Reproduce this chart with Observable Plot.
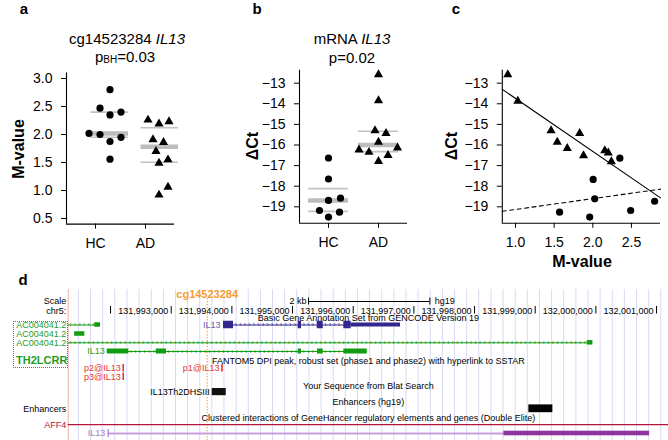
<!DOCTYPE html>
<html><head><meta charset="utf-8">
<script src="https://cdn.jsdelivr.net/npm/d3@7"></script>
<script src="https://cdn.jsdelivr.net/npm/@observablehq/plot@0.6"></script>
<style>
body{margin:0;background:#fff;}
#wrap{position:relative;width:668px;height:440px;overflow:hidden;background:#fff;font-family:"Liberation Sans",Arial,Helvetica,sans-serif;color:#000;}
#wrap svg{position:absolute;left:0;top:0;}
.lbl{position:absolute;white-space:nowrap;line-height:1;transform:translate(-50%,-50%);}
</style></head>
<body><div id="wrap"></div>
<script>
// ---------------- DATA ----------------
const groups = ["HC", "AD"];
// Panel a: cg14523284 IL13 M-values (with horizontal jitter)
const aHC = [2.80, 2.47, 2.35, 2.40, 2.02, 2.00, 1.95, 1.875, 1.56];
const aHCJitter = [0.29, 0.09, 0.29, 0.51, -0.13, 0.09, 0.51, 0.29, 0.29];
const aAD = [2.26, 2.19, 2.23, 1.91, 1.86, 1.70, 1.55, 1.49, 1.06, 0.92];
const aADJitter = [0.05, 0.27, 0.47, 0.15, 0.36, 0.21, 0.45, 0.27, 0.45, 0.27];
// Panel b: mRNA IL13 dCt
const bHC = [-16.63, -17.65, -18.69, -18.58, -19.18, -19.26, -19.50];
const bHCJitter = [0, 0, 0, 0.24, -0.18, 0.22, 0];
const bAD = [-12.58, -13.84, -15.30, -15.43, -15.86, -16.23, -16.35, -16.14, -16.50, -16.79];
const bADJitter = [0, 0, -0.07, 0.15, 0, -0.39, -0.19, 0.38, 0.19, 0];
// Panel c: M-value vs dCt
const cADm  = [0.90, 1.03, 1.46, 1.54, 1.67, 1.83, 1.88, 2.155, 2.20, 2.24];
const cADct = [-12.58, -13.87, -15.30, -15.86, -16.16, -15.43, -16.51, -16.27, -16.38, -16.80];
const cHCm  = [2.35, 2.005, 2.025, 2.80, 1.57, 2.49, 1.96];
const cHCct = [-16.64, -17.67, -18.61, -18.73, -19.26, -19.18, -19.50];
// Tick labels
const aYTicks = [0.5, 1.0, 1.5, 2.0, 2.5, 3.0];
const bYTicks = [-19, -18, -17, -16, -15, -14, -13];
const cXTicks = [1.0, 1.5, 2.0, 2.5];

// Panel d: UCSC browser view, hg19 chr5
const viewStart = 131991302, viewEnd = 132001197;
const rulerPositions = [131992000, 131993000, 131994000, 131995000, 131996000, 131997000, 131998000, 131999000, 132000000, 132001000];
const rulerLabelPositions = [131993000, 131994000, 131995000, 131996000, 131997000, 131998000, 131999000, 132000000, 132001000];
const scaleBarStart = 131995263, scaleBarLength = 2000;
const cpgName = "cg14523284", cpgPos = 131993593;
const gencodeIL13Exons = [[131993862, 131994027], [131995093, 131995148], [131995407, 131995506], [131995845, 131995967]];
const gencodeIL13Utr = [[131995967, 131996780]];
const gencodeIL13Introns = [[131994027, 131995093], [131995148, 131995407], [131995506, 131995845]];
const ac1Exons = [[131991740, 131991834]], ac1Introns = [[131991302, 131991740]];
const ac2Exons = [[131991408, 131991576]];
const ac3Exons = [[131999858, 131999950]], ac3Introns = [[131991302, 131999858]];
const greenIL13Exons = [[131991946, 131992302], [131992753, 131992923], [131995093, 131995148], [131995412, 131995506], [131995845, 131996231]];
const greenIL13Introns = [[131992302, 131992753], [131992923, 131995093], [131995148, 131995412], [131995506, 131995845]];
const fantomPeaks = [{name: "p2@IL13", pos: 131992209, row: "p2"}, {name: "p3@IL13", pos: 131992209, row: "p3"}, {name: "p1@IL13", pos: 131993837, row: "p2"}];
const dhs = [{name: "IL13Th2DHSIII", start: 131993676, end: 131993907}];
const enhancers = [{start: 131998895, end: 131999291}];
const geneHancer = [{name: "IL13", tss: 131991961, start: 131998483, end: 132000885}];
const trackTitles = [
  {row: "gencodeTitle", text: "Basic Gene Annotation Set from GENCODE Version 19"},
  {row: "fantomTitle", text: "FANTOM5 DPI peak, robust set (phase1 and phase2) with hyperlink to SSTAR"},
  {row: "blatTitle", text: "Your Sequence from Blat Search"},
  {row: "enhTitle", text: "Enhancers (hg19)"},
  {row: "ghTitle", text: "Clustered interactions of GeneHancer regulatory elements and genes (Double Elite)"}
];
const gutterLabels = [
  {row: "scale", text: "Scale", color: "#000"},
  {row: "ruler", text: "chr5:", color: "#000"},
  {row: "ac1", text: "AC004041.2", color: "#1f9d1f"},
  {row: "ac2", text: "AC004041.2", color: "#1f9d1f"},
  {row: "ac3", text: "AC004041.2", color: "#1f9d1f"},
  {row: "enh", text: "Enhancers", color: "#000"},
  {row: "aff4", text: "AFF4", color: "#b5143c"}
];

// ---------------- LAYOUT ----------------
const FONT = '"Liberation Sans", Arial, Helvetica, sans-serif';
const W = 668, H = 440;
const wrap = document.getElementById("wrap");
const minus = d => (d < 0 ? "\u2212" : "") + Math.abs(d);

function addPlot(opts) {
  const svg = Plot.plot({width: W, height: H,
    style: {background: "transparent", fontFamily: FONT, overflow: "visible", color: "#000"}, ...opts});
  wrap.appendChild(svg);
}
function addLabel(html, x, y, css) {
  const d = document.createElement("div");
  d.className = "lbl"; d.innerHTML = html;
  d.style.left = x + "px"; d.style.top = y + "px";
  Object.assign(d.style, css || {});
  wrap.appendChild(d);
}
function quartiles(vals, g) {
  const s = vals.slice().sort(d3.ascending);
  return {g, q1: d3.quantile(s, 0.25), med: d3.quantile(s, 0.5), q3: d3.quantile(s, 0.75)};
}
function fit(xs, ys) {
  const mx = d3.mean(xs), my = d3.mean(ys);
  const b = d3.sum(xs, (x, i) => (x - mx) * (ys[i] - my)) / d3.sum(xs, x => (x - mx) ** 2);
  return {a: my - b * mx, b};
}
function groupPanel({vHC, jHC, vAD, jAD, xDomain, yDomain, yTicks, yFormat, span, left, right, top, bottom}) {
  const hc = vHC.map((v, i) => ({x: 1 + jHC[i], y: v}));
  const ad = vAD.map((v, i) => ({x: 2 + jAD[i], y: v}));
  const st = [quartiles(vHC, 1), quartiles(vAD, 2)];
  const qs = st.flatMap(s => [{g: s.g, y: s.q1}, {g: s.g, y: s.q3}]);
  const meds = st.map(s => ({g: s.g, y: s.med}));
  addPlot({
    marginLeft: left, marginRight: W - right, marginTop: top, marginBottom: H - bottom,
    x: {domain: xDomain, label: null}, y: {domain: yDomain, label: null},
    marks: [
      Plot.ruleY(qs, {x1: d => d.g + span[0], x2: d => d.g + span[1], y: "y", stroke: "#c2c2c2", strokeWidth: 1.6}),
      Plot.ruleY(meds, {x1: d => d.g + span[0], x2: d => d.g + span[1], y: "y", stroke: "#bdbdbd", strokeWidth: 4.5}),
      Plot.dot(hc, {x: "x", y: "y", symbol: "circle", r: 3.6, fill: "#000"}),
      Plot.dot(ad, {x: "x", y: "y", symbol: "triangle", r: 3.4, fill: "#000"}),
      Plot.ruleX([xDomain[0]], {stroke: "#000", strokeWidth: 1.1}),
      Plot.ruleY([yDomain[0]], {stroke: "#000", strokeWidth: 1.1}),
      Plot.axisY({ticks: yTicks, tickFormat: yFormat, tickSize: 5, tickPadding: 9, fontSize: 14, label: null}),
      Plot.axisX({ticks: [1, 2], tickFormat: d => groups[d - 1], tickSize: 5, tickPadding: 9, fontSize: 14, label: null})
    ]
  });
}

// Panel a
groupPanel({vHC: aHC, jHC: aHCJitter, vAD: aAD, jAD: aADJitter, xDomain: [0.42, 2.58], yDomain: [0.4, 3.1],
  yTicks: aYTicks, yFormat: d3.format(".1f"), span: [-0.09, 0.66], left: 66, right: 174, top: 72.4, bottom: 223.6});
// Panel b
groupPanel({vHC: bHC, jHC: bHCJitter, vAD: bAD, jAD: bADJitter, xDomain: [0.42, 2.58], yDomain: [-19.8, -12.375],
  yTicks: bYTicks, yFormat: minus, span: [-0.4, 0.4], left: 299, right: 407, top: 69.8, bottom: 222.8});

// Panel c
{
  const xDomain = [0.829, 2.876], yDomain = [-19.8, -12.375];
  const fAD = fit(cADm, cADct), fHC = fit(cHCm, cHCct);
  const lineAD = xDomain.map(x => ({x, y: fAD.a + fAD.b * x}));
  const lineHC = xDomain.map(x => ({x, y: fHC.a + fHC.b * x}));
  addPlot({
    marginLeft: 501.8, marginRight: W - 660, marginTop: 69.8, marginBottom: H - 222.8,
    x: {domain: xDomain, label: null}, y: {domain: yDomain, label: null},
    marks: [
      Plot.line(lineAD, {x: "x", y: "y", stroke: "#000", strokeWidth: 1.1}),
      Plot.line(lineHC, {x: "x", y: "y", stroke: "#000", strokeWidth: 1.1, strokeDasharray: "4,3.5"}),
      Plot.dot(cADm.map((m, i) => ({x: m, y: cADct[i]})), {x: "x", y: "y", symbol: "triangle", r: 3.4, fill: "#000"}),
      Plot.dot(cHCm.map((m, i) => ({x: m, y: cHCct[i]})), {x: "x", y: "y", symbol: "circle", r: 3.6, fill: "#000"}),
      Plot.ruleX([xDomain[0]], {stroke: "#000", strokeWidth: 1.1}),
      Plot.ruleY([yDomain[0]], {stroke: "#000", strokeWidth: 1.1}),
      Plot.axisY({ticks: bYTicks, tickFormat: minus, tickSize: 5, tickPadding: 9, fontSize: 14, label: null}),
      Plot.axisX({ticks: cXTicks, tickFormat: d3.format(".1f"), tickSize: 5, tickPadding: 9, fontSize: 14, label: null})
    ]
  });
}

// Panel d (genome browser)
{
  const lane = {cpg: 3.5, scale: 11, ruler: 20.5, gencodeTitle: 28, ac1: 34.5, ac2: 43.5, ac3: 52.3, il13green: 61,
    th2: 69.8, fantomTitle: 70.7, p2: 77.7, p3: 86.2, blatTitle: 95.7, dhs: 101.6, enhTitle: 111.7, enh: 118.3,
    ghTitle: 127.7, aff4: 134.2, gh: 143};
  const green = "#129c12", purple = "#33268f", red = "#e8362e";
  const guides = d3.range(viewStart + 168, viewEnd, 200);
  const center = (viewStart + viewEnd) / 2;
  const chev = (introns, y, step) => introns.flatMap(([a, b]) => d3.range(a + step / 2, b - step / 3, step).map(x => ({x, y})));
  const ex = (arr, y, h) => arr.map(([s, e]) => ({s, e, y1: y - h / 2, y2: y + h / 2}));
  const rect = (data, fill) => Plot.rect(data, {x1: "s", x2: "e", y1: "y1", y2: "y2", fill});
  const seg = (x1, x2, y, stroke, w) => Plot.ruleY([{x1, x2, y}], {x1: "x1", x2: "x2", y: "y", stroke, strokeWidth: w});
  const txt = (data, o) => Plot.text(data, {fontSize: 9, ...o});
  addPlot({
    marginLeft: 67.7, marginRight: 0, marginTop: 290, marginBottom: 0,
    x: {domain: [viewStart, viewEnd], axis: null}, y: {domain: [0, 150], reverse: true, axis: null},
    marks: [
      Plot.ruleX(guides, {x: d => d, y1: -1, y2: 150, stroke: "#d9d9f6", strokeWidth: 1}),
      Plot.ruleX([viewStart], {x: d => d, y1: -1, y2: 150, stroke: "#f2aeae", strokeWidth: 1}),
      Plot.ruleX([cpgPos], {x: d => d, y1: 8, y2: 150, stroke: "#f39c34", strokeWidth: 1, strokeDasharray: "1.5,1.5"}),
      txt([cpgName], {x: cpgPos, y: lane.cpg, text: d => d, fill: "#f39c34", fontWeight: "bold", fontSize: 11}),
      // scale bar
      seg(scaleBarStart, scaleBarStart + scaleBarLength, lane.scale, "#000", 1),
      Plot.ruleX([scaleBarStart, scaleBarStart + scaleBarLength], {x: d => d, y1: lane.scale - 3.5, y2: lane.scale + 3.5, stroke: "#000"}),
      txt(["2 kb"], {x: scaleBarStart, y: lane.scale, text: d => d, textAnchor: "end", dx: -2}),
      txt(["hg19"], {x: scaleBarStart + scaleBarLength, y: lane.scale, text: d => d, textAnchor: "start", dx: 5}),
      // ruler
      Plot.ruleX(rulerPositions, {x: d => d, y1: lane.ruler - 4.5, y2: lane.ruler + 3, stroke: "#000"}),
      txt(rulerLabelPositions, {x: d => d, y: lane.ruler, text: d3.format(","), textAnchor: "end", dx: -3}),
      // track titles
      txt(trackTitles, {x: center, y: d => lane[d.row], text: "text"}),
      // gutter labels
      txt(gutterLabels, {x: viewStart, y: d => lane[d.row], text: "text", fill: "color", textAnchor: "end", dx: -2}),
      txt(["TH2LCRR"], {x: viewStart, y: lane.th2, text: d => d, fill: "#1f9d1f", fontWeight: "bold", fontSize: 11, textAnchor: "middle", dx: -26.5}),
      // GENCODE IL13
      seg(gencodeIL13Exons[0][0], gencodeIL13Utr[0][1], lane.ac1, purple, 1),
      txt(chev(gencodeIL13Introns, lane.ac1, 75), {x: "x", y: "y", text: () => "\u203a", fill: purple, fontSize: 7}),
      rect(ex(gencodeIL13Exons, lane.ac1, 7.5), purple),
      rect(ex(gencodeIL13Utr, lane.ac1, 4), purple),
      txt(["IL13"], {x: gencodeIL13Exons[0][0], y: lane.ac1, text: d => d, fill: "#6a60ab", textAnchor: "end", dx: -3}),
      // AC004041.2 rows
      seg(ac1Introns[0][0], ac1Exons[0][1], lane.ac1, green, 1),
      txt(chev(ac1Introns, lane.ac1, 75), {x: "x", y: "y", text: () => "\u2039", fill: green, fontSize: 7}),
      rect(ex(ac1Exons, lane.ac1, 4.5), green),
      rect(ex(ac2Exons, lane.ac2, 4.5), green),
      seg(ac3Introns[0][0], ac3Exons[0][1], lane.ac3, green, 1),
      txt(chev(ac3Introns, lane.ac3, 75), {x: "x", y: "y", text: () => "\u2039", fill: green, fontSize: 7}),
      rect(ex(ac3Exons, lane.ac3, 4.5), green),
      // green IL13
      seg(greenIL13Exons[0][0], greenIL13Exons[greenIL13Exons.length - 1][1], lane.il13green, green, 1),
      txt(chev(greenIL13Introns, lane.il13green, 75), {x: "x", y: "y", text: () => "\u203a", fill: green, fontSize: 7}),
      rect(ex(greenIL13Exons, lane.il13green, 5), green),
      txt(["IL13"], {x: greenIL13Exons[0][0], y: lane.il13green, text: d => d, fill: "#1f9d1f", textAnchor: "end", dx: -2.5}),
      // FANTOM5 peaks
      Plot.ruleX(fantomPeaks, {x: "pos", y1: d => lane[d.row] - 3.8, y2: d => lane[d.row] + 3.8, stroke: red, strokeWidth: 1.6}),
      txt(fantomPeaks, {x: "pos", y: d => lane[d.row], text: "name", fill: red, textAnchor: "end", dx: -2.5}),
      // DHS
      Plot.rect(dhs, {x1: "start", x2: "end", y1: lane.dhs - 3.6, y2: lane.dhs + 3.6, fill: "#111"}),
      txt(dhs, {x: "start", y: lane.dhs, text: "name", textAnchor: "end", dx: -2.5}),
      // Enhancers
      Plot.rect(enhancers, {x1: "start", x2: "end", y1: lane.enh - 3.9, y2: lane.enh + 3.9, fill: "#000"}),
      // AFF4
      seg(viewStart, viewEnd, lane.aff4, "#b5143c", 1.2),
      // GeneHancer
      Plot.ruleY(geneHancer, {x1: "tss", x2: "start", y: lane.gh, stroke: "#c79edb", strokeWidth: 1.8}),
      Plot.ruleX(geneHancer, {x: "tss", y1: lane.gh - 4, y2: lane.gh + 4, stroke: "#a57bc6", strokeWidth: 1.2}),
      Plot.rect(geneHancer, {x1: "start", x2: "end", y1: lane.gh - 2.3, y2: lane.gh + 2.3, fill: "#8d349e"}),
      txt(geneHancer, {x: "tss", y: lane.gh, text: "name", fill: "#a47cc4", textAnchor: "end", dx: -3})
    ]
  });
  // highlight box around gene labels
  const box = document.createElement("div");
  Object.assign(box.style, {position: "absolute", left: "13px", top: "320.5px", width: "53px", height: "45px", border: "1px dotted #2aa02a"});
  wrap.appendChild(box);
}

// ---------------- TEXT ----------------
const bold15 = {fontSize: "15px", fontWeight: "bold"};
addLabel("a", 24, 8, bold15);
addLabel("b", 257, 8, bold15);
addLabel("c", 456, 8, bold15);
addLabel("d", 23, 279, bold15);
addLabel('cg14523284 <i>IL13</i>', 127, 38, {fontSize: "15px"});
addLabel('p<span style="font-size:10px;position:relative;top:1px">BH</span>=0.03', 125, 56, {fontSize: "15px"});
addLabel('mRNA <i>IL13</i>', 352, 38, {fontSize: "15px"});
addLabel('p=0.02', 352, 56.5, {fontSize: "15px"});
addLabel("M-value", 18.5, 149, {fontSize: "16px", fontWeight: "bold", transform: "translate(-50%,-50%) rotate(-90deg)"});
addLabel("\u0394Ct", 253, 146, {fontSize: "16px", fontWeight: "bold", transform: "translate(-50%,-50%) rotate(-90deg)"});
addLabel("\u0394Ct", 452, 146, {fontSize: "16px", fontWeight: "bold", transform: "translate(-50%,-50%) rotate(-90deg)"});
addLabel("M-value", 582, 262, {fontSize: "16px", fontWeight: "bold"});
</script></body></html>
